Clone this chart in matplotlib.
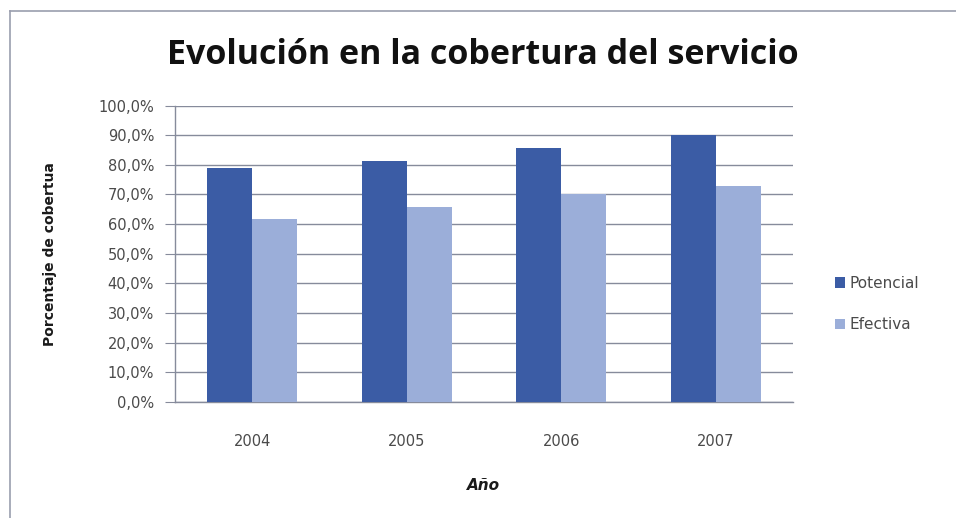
import matplotlib
matplotlib.use("Agg")
import matplotlib.pyplot as plt
from matplotlib.lines import Line2D
from matplotlib.ticker import FuncFormatter, MultipleLocator
import numpy as np

# Data
years = ["2004", "2005", "2006", "2007"]
potencial = [78.8, 81.2, 85.7, 90.0]
efectiva = [61.8, 65.9, 70.0, 72.8]
series_names = ["Potencial", "Efectiva"]

title = "Evolución en la cobertura del servicio"
ylabel = "Porcentaje de cobertua"
xlabel = "Año"

c_pot = "#3B5CA5"
c_efe = "#9BAED9"
grid_c = "#868B9B"
text_c = "#4A4A4A"

fig = plt.figure(figsize=(9.56, 5.18), dpi=100)
ax = fig.add_axes([0.183, 0.2245, 0.6465, 0.5715])

x = np.arange(len(years))
w = 0.29
ax.bar(x - w / 2, potencial, width=w, color=c_pot, label=series_names[0], zorder=3)
ax.bar(x + w / 2, efectiva, width=w, color=c_efe, label=series_names[1], zorder=3)

ax.set_xlim(-0.5, len(years) - 0.5)
ax.set_ylim(0, 100)
ax.yaxis.set_major_locator(MultipleLocator(10))
ax.yaxis.set_major_formatter(FuncFormatter(lambda v, p: f"{v:.1f}%".replace(".", ",")))
ax.grid(axis="y", color=grid_c, linewidth=1.0, zorder=0)
ax.set_axisbelow(True)

ax.set_xticks(x)
ax.set_xticklabels(years)
for s in ["top", "right"]:
    ax.spines[s].set_visible(False)
for s in ["left", "bottom"]:
    ax.spines[s].set_color(grid_c)
    ax.spines[s].set_linewidth(1.0)

ax.tick_params(axis="y", length=7, color=grid_c, labelsize=10.5, labelcolor=text_c, pad=8)
ax.tick_params(axis="x", length=0, labelsize=10.5, labelcolor=text_c, pad=23)

ax.set_ylabel(ylabel, fontsize=10, fontweight="bold", color="#1A1A1A", labelpad=30)
ax.set_xlabel(xlabel, fontsize=11, fontweight="bold", fontstyle="italic", color="#1A1A1A", labelpad=21)

fig.text(0.505, 0.893, title, ha="center", va="center", fontsize=24.5, fontweight="bold",
         family="Open Sans", color="#111111")

leg = ax.legend(loc="center left", bbox_to_anchor=(1.045, 0.33), frameon=False,
                fontsize=11, handlelength=0.7, handleheight=0.7, handletextpad=0.3,
                labelspacing=1.75)
for t in leg.get_texts():
    t.set_color(text_c)

# chart border (left and top edges)
fig.add_artist(Line2D([0.0105, 0.0105], [0.0, 0.979], transform=fig.transFigure,
                      color="#9A9EAE", linewidth=1.2))
fig.add_artist(Line2D([0.0105, 1.0], [0.979, 0.979], transform=fig.transFigure,
                      color="#9A9EAE", linewidth=1.2))

fig.savefig("out.png", dpi=100)
